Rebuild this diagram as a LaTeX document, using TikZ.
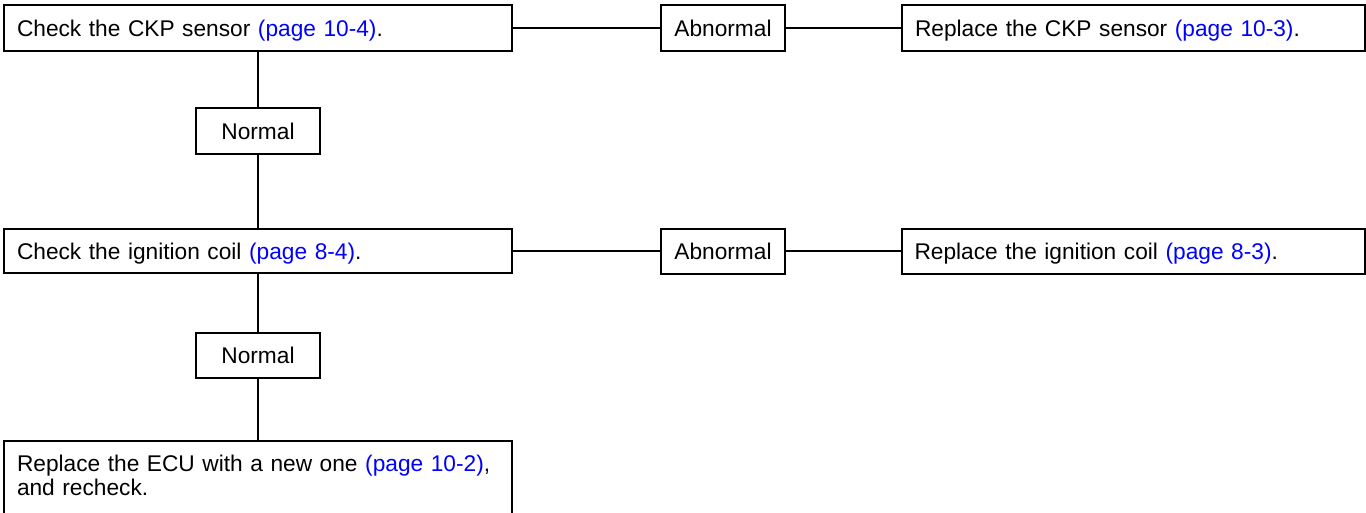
\documentclass[tikz,border=0pt]{standalone}
\usepackage{fontspec}
\setmainfont{Liberation Sans}
\usepackage{xcolor}
\usepackage{tikz}
\usetikzlibrary{positioning,calc}
\definecolor{linkblue}{HTML}{0000FF}
\newcommand{\pglink}[1]{\textcolor{linkblue}{(page #1)}}

\begin{document}
\begin{tikzpicture}[x=1pt, y=-1pt,
    every node/.style={font=\fontsize{22.7}{24}\selectfont},
    panel/.style={draw=black, line width=2pt, inner xsep=13pt, inner ysep=0pt, align=left},
    stepbox/.style={panel, text width=482pt, minimum height=46pt, text height=16pt, text depth=0pt},
    fixbox/.style={stepbox, text width=437pt},
    tagbox/.style={draw=black, line width=2pt, inner sep=0pt, minimum width=124pt, minimum height=46pt, text height=16pt, text depth=0pt},
    wire/.style={draw=black, line width=1.3pt}]
      \useasboundingbox (0,0) rectangle (1366,512);

      % first check
      \node[stepbox] (ckp) at (258,28) {Check the CKP sensor \pglink{10-4}.};
      \node[tagbox] (ckpbad) at (723,28) {Abnormal};
      \node[fixbox] (ckpfix) at (1133.5,28) {Replace the CKP sensor \pglink{10-3}.};
      \node[tagbox] (ckpok) at (258,131) {Normal};

      % second check
      \node[stepbox, minimum height=44pt] (coil) at (258,251) {Check the ignition coil \pglink{8-4}.};
      \node[tagbox, minimum height=45pt] (coilbad) at (723,251) {Abnormal};
      \node[fixbox, minimum height=45pt] (coilfix) at (1133,251) {Replace the ignition coil \pglink{8-3}.};
      \node[tagbox, minimum height=45pt] (coilok) at (258,355.5) {Normal};

      % last step
      \node[panel, text width=482pt, inner ysep=14pt, anchor=north] (ecu) at (258,440)
        {Replace the ECU with a new one \pglink{10-2},\\ and recheck.\rule[-24pt]{0pt}{0pt}};

      \draw[wire] (ckp.east) -- (ckpbad.west);
      \draw[wire] (ckpbad.east) -- (ckpfix.west);
      \draw[wire] (ckp.south) -- (ckpok.north);
      \draw[wire] (ckpok.south) -- (coil.north);
      \draw[wire] (coil.east) -- (coilbad.west);
      \draw[wire] (coilbad.east) -- (coilfix.west);
      \draw[wire] (coil.south) -- (coilok.north);
      \draw[wire] (coilok.south) -- (ecu.north);
\end{tikzpicture}
\end{document}
